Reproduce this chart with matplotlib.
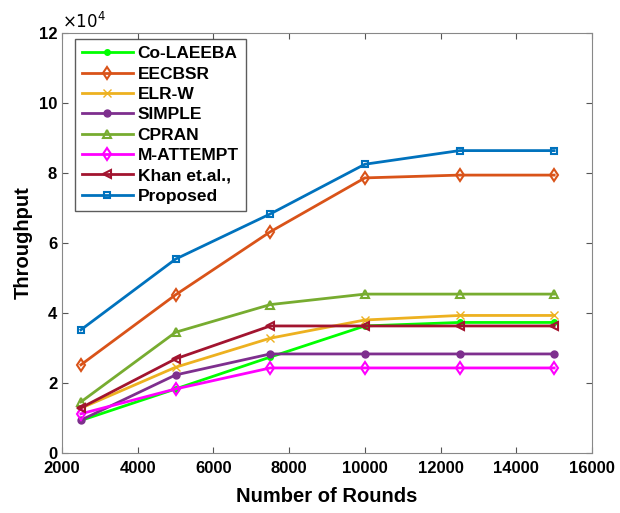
import matplotlib
matplotlib.use('Agg')
import matplotlib.pyplot as plt

plt.rcParams['font.family'] = ['Liberation Sans', 'DejaVu Sans']

rounds = [2500, 5000, 7500, 10000, 12500, 15000]

co_laeeba = [0.93, 1.83, 2.74, 3.63, 3.73, 3.73]
eecbsr = [2.52, 4.52, 6.32, 7.86, 7.94, 7.94]
elr_w = [1.28, 2.45, 3.28, 3.8, 3.93, 3.93]
simple = [0.94, 2.23, 2.83, 2.83, 2.83, 2.83]
cpran = [1.46, 3.45, 4.24, 4.54, 4.54, 4.54]
m_attempt = [1.12, 1.83, 2.43, 2.43, 2.43, 2.43]
khan = [1.29, 2.69, 3.63, 3.63, 3.63, 3.63]
proposed = [3.52, 5.54, 6.83, 8.25, 8.64, 8.64]

series = [
    ('Co-LAEEBA', co_laeeba, '#00FF00', '.', 8),
    ('EECBSR', eecbsr, '#D95319', 'd', 6),
    ('ELR-W', elr_w, '#EDB120', 'x', 6),
    ('SIMPLE', simple, '#7E2F8E', 'o', 5),
    ('CPRAN', cpran, '#77AC30', '^', 6),
    ('M-ATTEMPT', m_attempt, '#FF00FF', 'd', 6),
    ('Khan et.al.,', khan, '#A2142F', '<', 6),
    ('Proposed', proposed, '#0072BD', 's', 5),
]

fig = plt.figure(figsize=(6.2, 5.13), dpi=100)
ax = fig.add_axes([62 / 620, 60 / 513, 530 / 620, 420 / 513])

for name, vals, color, marker, ms in series:
    y = [v * 1e4 for v in vals]
    if marker in ('.', 'o', 'x'):
        ax.plot(rounds, y, color=color, marker=marker, markersize=ms, linewidth=2, label=name)
    else:
        ax.plot(rounds, y, color=color, marker=marker, markersize=ms, linewidth=2,
                markerfacecolor='none', markeredgewidth=1.5, label=name)

ax.set_xlim(2000, 16000)
ax.set_ylim(0, 12e4)
ax.set_xticks(range(2000, 16001, 2000))
ax.set_yticks([i * 2e4 for i in range(7)])
ax.set_yticklabels([str(i * 2) for i in range(7)])
ax.tick_params(direction='in', top=True, right=True, labelsize=12, length=4, color='#555555')
ax.tick_params(axis='x', pad=6)
for lbl in ax.get_xticklabels() + ax.get_yticklabels():
    lbl.set_fontweight('bold')
for sp in ax.spines.values():
    sp.set_color('#888888')

ax.text(0.0, 1.005, r'$\times10^4$', transform=ax.transAxes, fontsize=12, ha='left', va='bottom')

ax.set_xlabel('Number of Rounds', fontsize=14.5, fontweight='bold', labelpad=8)
ax.set_ylabel('Throughput', fontsize=14.5, fontweight='bold')

leg = ax.legend(loc='upper left', bbox_to_anchor=(0.025, 0.985), prop={'weight': 'bold', 'size': 12.5},
                fancybox=False, edgecolor='#333333', handlelength=2.9,
                borderaxespad=0.0, labelspacing=0.3, handletextpad=0.3,
                borderpad=0.4)
leg.get_frame().set_linewidth(1.0)

fig.savefig('out.png', dpi=100)
